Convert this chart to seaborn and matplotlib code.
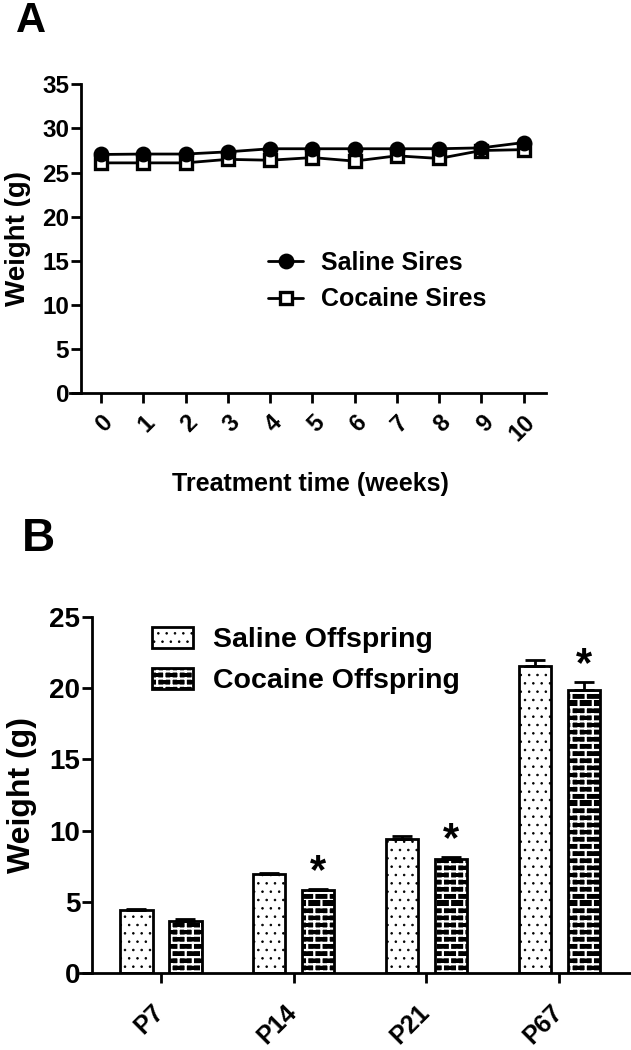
import matplotlib
matplotlib.use("Agg")
import matplotlib.pyplot as plt
import matplotlib.colors as mcolors
import matplotlib.hatch as mhatch
import matplotlib.transforms as mtransforms
from matplotlib.lines import Line2D
from matplotlib.patches import Patch
from matplotlib.path import Path
import pandas as pd
import seaborn as sns

# ---- Panel A data: sire body weight over treatment ----
weeks = list(range(11))
saline_sires = [27.05, 27.1, 27.1, 27.35, 27.7, 27.7, 27.7, 27.7, 27.7, 27.8, 28.4]
cocaine_sires = [26.1, 26.1, 26.1, 26.5, 26.4, 26.7, 26.3, 26.9, 26.6, 27.5, 27.6]
sire_groups = ["Saline Sires", "Cocaine Sires"]

# ---- Panel B data: offspring body weight (mean, SEM) ----
ages = ["P7", "P14", "P21", "P67"]
saline_off = [4.44, 6.96, 9.39, 21.59]
saline_sem = [0.05, 0.05, 0.23, 0.37]
cocaine_off = [3.67, 5.84, 7.99, 19.9]
cocaine_sem = [0.14, 0.05, 0.16, 0.54]
significant = [False, True, True, True]
off_groups = ["Saline Offspring", "Cocaine Offspring"]


# Brick-wall hatch (GraphPad style), hooked onto the '*' hatch character
class BrickHatch(mhatch.HatchPatternBase):
    rows, cols = 14, 7

    def __init__(self, hatch, density):
        n = hatch.count("*")
        self.num_vertices = (self.rows + self.rows * self.cols) * 2 if n else 0

    def set_vertices_and_codes(self, vertices, codes):
        k = 0
        for i in range(self.rows):
            y0, y1 = i / self.rows, (i + 1) / self.rows
            vertices[k] = (0.0, y0)
            vertices[k + 1] = (1.0, y0)
            k += 2
            for j in range(self.cols):
                x = (j + 0.5 * (i % 2)) / self.cols
                vertices[k] = (x, y0)
                vertices[k + 1] = (x, y1)
                k += 2
        codes[0::2] = Path.MOVETO
        codes[1::2] = Path.LINETO


mhatch._hatch_types = [h for h in mhatch._hatch_types if h is not mhatch.Stars] + [BrickHatch]
BRICK = "*"

sns.set_theme(style="ticks")
plt.rcParams["font.family"] = ["Liberation Sans", "DejaVu Sans"]
for key in ["text.color", "axes.labelcolor", "xtick.color", "ytick.color", "axes.edgecolor"]:
    plt.rcParams[key] = "black"

W, H = 631, 1050
LW = 2.0
fig = plt.figure(figsize=(W / 100, H / 100), dpi=100)


def style_axes(ax, yspine_x, tick_len=7.5):
    for s in ["top", "right"]:
        ax.spines[s].set_visible(False)
    for s in ["left", "bottom"]:
        ax.spines[s].set_linewidth(LW)
    ax.spines["left"].set_position(("data", yspine_x))
    ax.tick_params(axis="both", direction="out", length=tick_len, width=LW)
    ax.tick_params(axis="y", pad=1)
    ax.grid(False)
    ax.set_facecolor("white")


def set_hatch_style(patch, color, lw):
    if hasattr(patch, "set_hatchcolor"):
        patch.set_hatchcolor(color)
    else:
        patch._hatch_color = mcolors.to_rgba(color)
    if hasattr(patch, "set_hatch_linewidth"):
        patch.set_hatch_linewidth(lw)
    else:
        patch._hatch_linewidth = lw


# ==========================================
# Panel A
# ==========================================
axA = fig.add_axes([70 / W, 1 - 393.3 / H, 476 / W, 309 / H])
df_a = pd.DataFrame({
    "week": weeks * 2,
    "weight": saline_sires + cocaine_sires,
    "group": [sire_groups[0]] * len(weeks) + [sire_groups[1]] * len(weeks),
})
sns.lineplot(data=df_a, x="week", y="weight", hue="group", style="group",
             hue_order=sire_groups[::-1], style_order=sire_groups[::-1],
             palette=["black", "black"], markers={"Saline Sires": "o", "Cocaine Sires": "s"},
             dashes=False, linewidth=LW, markersize=9, markeredgewidth=2.4,
             markeredgecolor="black", legend=False, ax=axA)
for ln in axA.lines:
    ln.set_markerfacecolor("white" if ln.get_marker() == "s" else "black")

axA.set_xlim(-0.734, 10.53)
axA.set_ylim(0, 35)
axA.set_xticks(weeks)
axA.set_yticks(range(0, 36, 5))
style_axes(axA, -0.473)
axA.tick_params(axis="x", pad=5)
axA.set_xticklabels([str(w) for w in weeks], rotation=45, ha="right",
                    rotation_mode="anchor", fontsize=17, fontweight="bold")
for lab in axA.get_yticklabels():
    lab.set_fontsize(17.5)
    lab.set_fontweight("bold")
axA.set_xlabel("Treatment time (weeks)", fontsize=18, fontweight="bold")
axA.set_ylabel("Weight (g)", fontsize=20, fontweight="bold")
axA.yaxis.set_label_coords(-0.082, 0.5)
axA.xaxis.set_label_coords(0.506, -0.255)

handles_a = [
    Line2D([], [], color="black", lw=LW, marker="o", ms=9, mfc="black", mec="black", mew=2.4),
    Line2D([], [], color="black", lw=LW, marker="s", ms=9, mfc="white", mec="black", mew=2.4),
]
axA.legend(handles_a, sire_groups, loc="center left", bbox_to_anchor=(0.416, 0.363),
           frameon=False, borderpad=0, borderaxespad=0, prop={"size": 18, "weight": "bold"},
           handlelength=1.4, handletextpad=0.72, labelspacing=0.5)

fig.text(16 / W, 1 - 1 / H, "A", fontsize=30, fontweight="bold", va="top", ha="left")

# ==========================================
# Panel B
# ==========================================
axB = fig.add_axes([80 / W, 1 - 973 / H, 551 / W, 356 / H])
df_b = pd.DataFrame({
    "age": ages * 2,
    "weight": saline_off + cocaine_off,
    "group": [off_groups[0]] * len(ages) + [off_groups[1]] * len(ages),
})
sns.barplot(data=df_b, x="age", y="weight", hue="group", hue_order=off_groups,
            palette=["white", "black"], width=0.74, gap=0.34, errorbar=None,
            edgecolor="black", linewidth=LW, legend=False, ax=axB)

for bar in axB.containers[0]:
    bar.set_facecolor("white")
    bar.set_hatch("..")
    set_hatch_style(bar, "black", 0.6)
for bar in axB.containers[1]:
    bar.set_facecolor("black")
    bar.set_hatch(BRICK)
    set_hatch_style(bar, "white", 1.6)

# one-sided (upward) error bars + significance stars
for cont, vals, errs in [(axB.containers[0], saline_off, saline_sem),
                         (axB.containers[1], cocaine_off, cocaine_sem)]:
    for bar, v, e in zip(cont, vals, errs):
        xc = bar.get_x() + bar.get_width() / 2
        axB.errorbar(xc, v, yerr=[[0], [e]], fmt="none", ecolor="black",
                     elinewidth=LW, capsize=7, capthick=LW, zorder=5)
for bar, v, e, sig in zip(axB.containers[1], cocaine_off, cocaine_sem, significant):
    if sig:
        xc = bar.get_x() + bar.get_width() / 2
        axB.text(xc, v + e + 1.2, "*", ha="center", va="center",
                 fontsize=30, fontweight="bold")

axB.set_xlim(-0.609, 3.54)
axB.set_ylim(0, 25)
axB.set_yticks(range(0, 26, 5))
style_axes(axB, -0.519)
axB.set_xticks(range(len(ages)))
axB.tick_params(axis="x", pad=12)
axB.set_xticklabels(ages, rotation=45, ha="right", rotation_mode="anchor",
                    fontsize=18, fontweight="bold")
shift = mtransforms.ScaledTranslation(-0.09, 0, fig.dpi_scale_trans)
for lab in axB.get_xticklabels():
    lab.set_transform(lab.get_transform() + shift)
for lab in axB.get_yticklabels():
    lab.set_fontsize(20)
    lab.set_fontweight("bold")
axB.set_xlabel("")
axB.set_ylabel("Weight (g)", fontsize=23, fontweight="bold")
axB.yaxis.set_label_coords(-0.078, 0.5)

handles_b = [
    Patch(facecolor="white", edgecolor="black", hatch="..", linewidth=LW),
    Patch(facecolor="black", edgecolor="black", hatch=BRICK, linewidth=LW),
]
legB = axB.legend(handles_b, off_groups, loc="center left", bbox_to_anchor=(0.131, 0.878),
                  frameon=False, borderpad=0, borderaxespad=0,
                  prop={"size": 20.5, "weight": "bold"},
                  handlelength=1.44, handleheight=0.77, handletextpad=0.7, labelspacing=0.52)
lp = legB.get_patches()
set_hatch_style(lp[0], "black", 0.6)
set_hatch_style(lp[1], "white", 1.6)

fig.text(22 / W, 1 - 539 / H, "B", fontsize=33, fontweight="bold", va="center", ha="left")

fig.savefig("out.png", dpi=100, facecolor="white")
